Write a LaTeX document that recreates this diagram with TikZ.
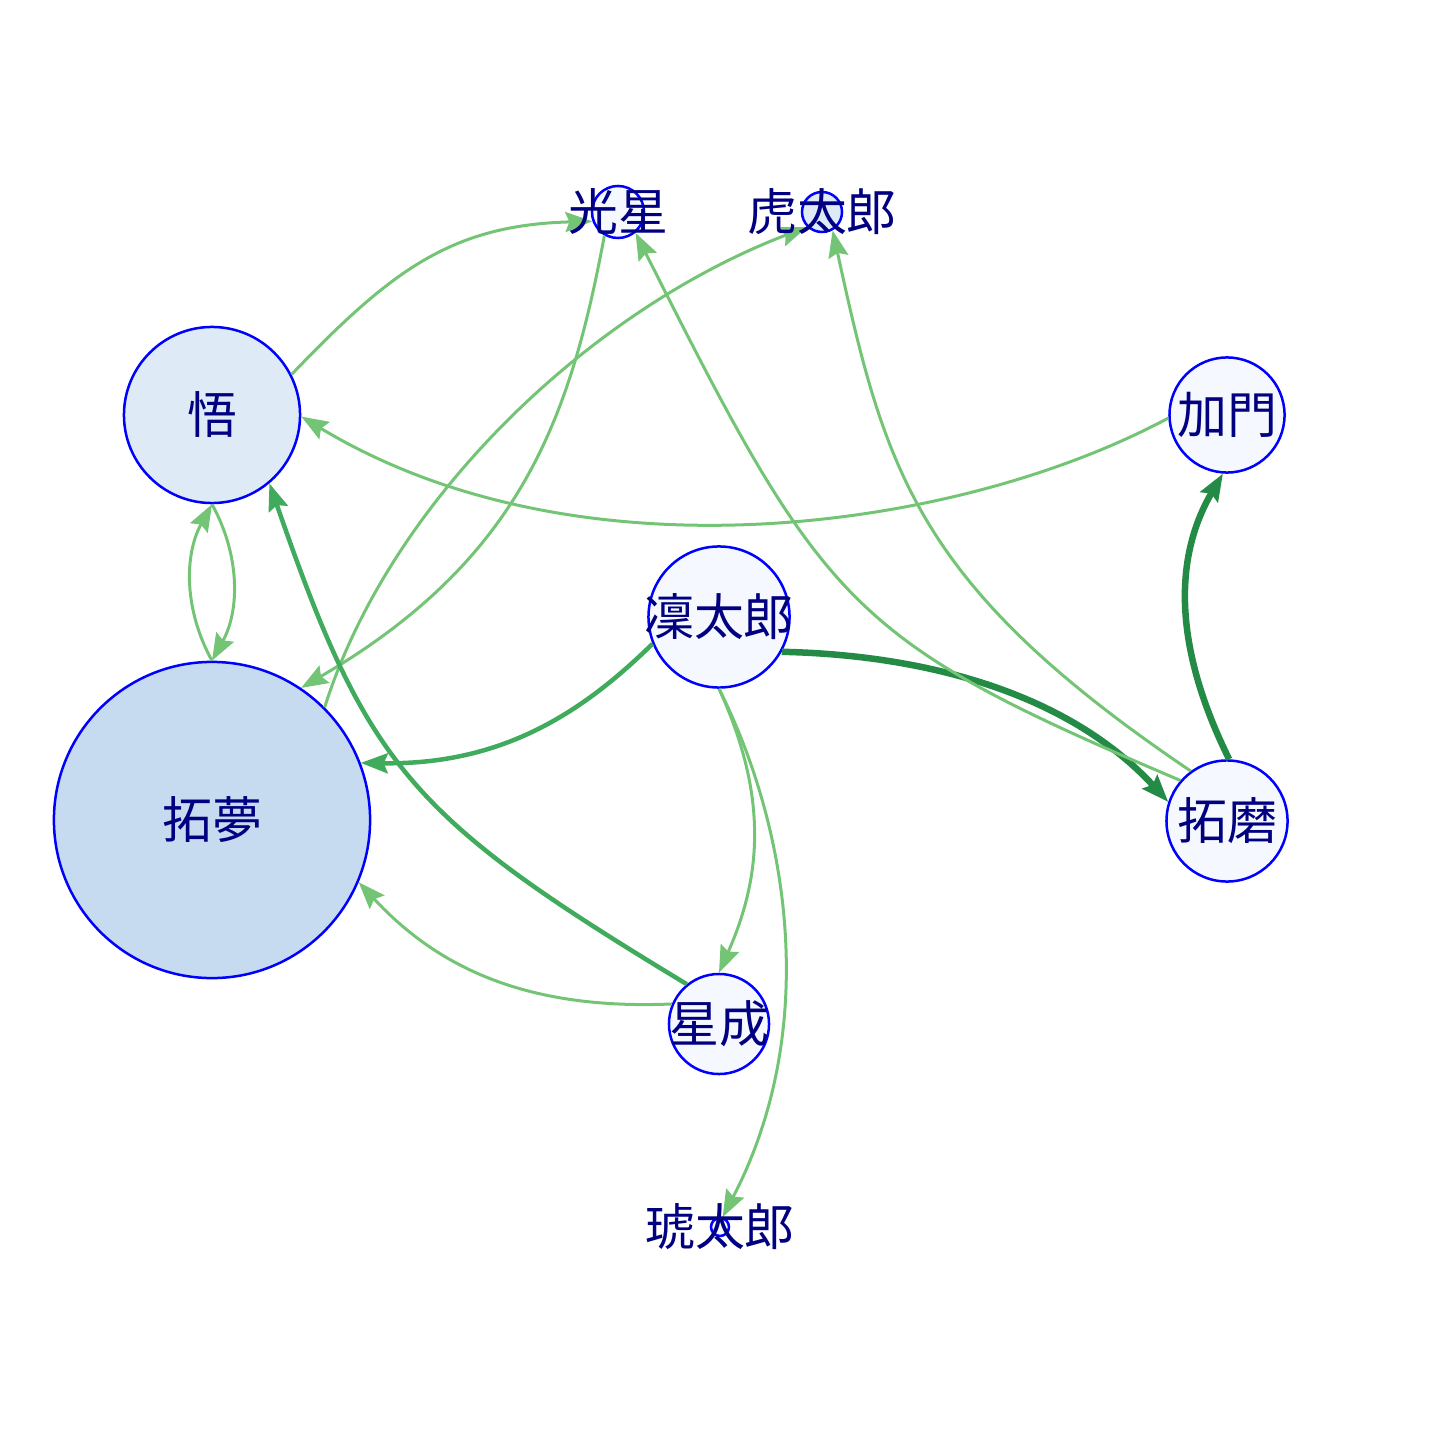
\documentclass[tikz,border=0pt]{standalone}
\usepackage{fontspec}
\newfontfamily\cjk{Noto Sans CJK JP}
\usetikzlibrary{arrows.meta}

\definecolor{vblue}{HTML}{0000FF}
\definecolor{vnavy}{HTML}{000080}
\definecolor{vpale}{HTML}{F5F9FF}
\definecolor{vlight}{HTML}{DEEBF7}
\definecolor{vdeep}{HTML}{C6DBEF}
\definecolor{glight}{HTML}{74C476}
\definecolor{gmid}{HTML}{41AB5D}
\definecolor{gdark}{HTML}{238B45}

\begin{document}
\begin{tikzpicture}[
    x=0.01cm, y=-0.01cm,
    vertex/.style={
        circle,
        draw=vblue,
        line width=0.025cm,
        inner sep=0pt
    },
    vlabel/.style={
        font=\cjk\fontsize{14.2pt}{16pt}\selectfont,
        text=vnavy,
        inner sep=0pt
    },
    tielight/.style={
        -{Stealth[length=0.27cm,width=0.2cm,inset=0.04cm]},
        line width=0.03cm,
        draw=glight
    },
    tiemid/.style={
        tielight,
        line width=0.045cm,
        draw=gmid
    },
    tieheavy/.style={
        tielight,
        line width=0.065cm,
        draw=gdark
    }
]
\useasboundingbox (0,0) rectangle (1440,1440);

% Vertices
\node[vertex, fill=vpale, minimum size=0.52cm] (kosei) at (618,212) {};
\node[vertex, fill=vlight, minimum size=0.40cm] (kotaro) at (822,212) {};
\node[vertex, fill=vlight, minimum size=1.76cm] (satoru) at (212,415) {};
\node[vertex, fill=vpale, minimum size=1.15cm] (kamon) at (1227,415) {};
\node[vertex, fill=vpale, minimum size=1.41cm] (rintaro) at (719,617) {};
\node[vertex, fill=vdeep, minimum size=3.16cm] (takumu) at (212,820) {};
\node[vertex, fill=vpale, minimum size=1.21cm] (takuma) at (1227,821) {};
\node[vertex, fill=vpale, minimum size=1.00cm] (seisei) at (719,1024) {};
\node[vertex, fill=vpale, minimum size=0.18cm] (kotarob) at (720,1227) {};

% Edges
\draw[tielight] (satoru.27) .. controls (390,272) and (450,225) .. (kosei.200);
\draw[tielight] (kosei.-120) .. controls (570,420) and (520,560) .. (takumu.56);
\draw[tielight] (takumu.45) .. controls (390,500) and (590,310) .. (kotaro.225);
\draw[tielight] (kamon.183) .. controls (960,530) and (580,585) .. (satoru.-1);
\draw[tielight] (takumu.90) .. controls (184,610) and (184,555) .. (satoru.-90);
\draw[tielight] (satoru.-90) .. controls (240,555) and (240,610) .. (takumu.90);
\draw[tiemid] (seisei.129) .. controls (410,817) and (368,768) .. (satoru.-50);
\draw[tiemid] (rintaro.202) .. controls (580,715) and (500,765) .. (takumu.21);
\draw[tieheavy] (rintaro.-29) .. controls (930,655) and (1070,695) .. (takuma.162);
\draw[tieheavy] (takuma.88) .. controls (1175,650) and (1172,560) .. (kamon.-94);
\draw[tielight] (takuma.139) .. controls (850,640) and (825,610) .. (kosei.-50);
\draw[tielight] (takuma.126) .. controls (915,585) and (885,470) .. (kotaro.-60);
\draw[tielight] (rintaro.-90) .. controls (770,800) and (760,880) .. (seisei.90);
\draw[tielight] (rintaro.-90) .. controls (790,830) and (820,1030) .. (kotarob.75);
\draw[tielight] (seisei.157) .. controls (530,1010) and (440,970) .. (takumu.-23);

% Labels
\node[vlabel] (kosei-l) at (kosei) {光星};
\node[vlabel] (kotaro-l) at (kotaro) {虎太郎};
\node[vlabel] (satoru-l) at (satoru) {悟};
\node[vlabel] (kamon-l) at (kamon) {加門};
\node[vlabel] (rintaro-l) at (rintaro) {凜太郎};
\node[vlabel] (takumu-l) at (takumu) {拓夢};
\node[vlabel] (takuma-l) at (takuma) {拓磨};
\node[vlabel] (seisei-l) at (seisei) {星成};
\node[vlabel] (kotarob-l) at (kotarob) {琥太郎};

\end{tikzpicture}
\end{document}
